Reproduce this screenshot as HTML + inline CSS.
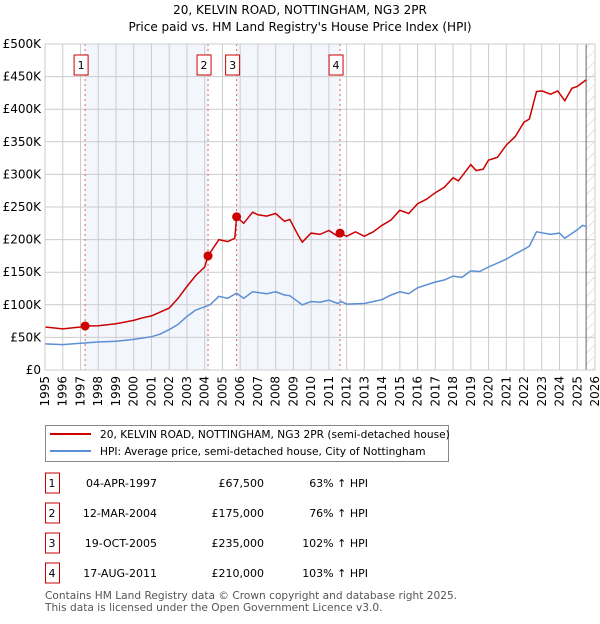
<!DOCTYPE html>
<html><head><meta charset="utf-8"><style>
body{margin:0;background:#fff;font-family:"DejaVu Sans","Liberation Sans",sans-serif;}
svg text{font-family:"DejaVu Sans","Liberation Sans",sans-serif;}
</style></head><body>
<svg id="c" width="600" height="620" xmlns="http://www.w3.org/2000/svg">
<text x="300" y="14" text-anchor="middle" font-size="12" fill="#000">20, KELVIN ROAD, NOTTINGHAM, NG3 2PR</text>
<text x="300" y="31" text-anchor="middle" font-size="12" fill="#000">Price paid vs. HM Land Registry's House Price Index (HPI)</text>
<g id="plot"></g>
<g>
<rect x="45.5" y="425.5" width="403" height="36" fill="#fff" stroke="#888"/>
<line x1="50" y1="434" x2="91" y2="434" stroke="#cc0000" stroke-width="2"/>
<text x="100" y="438" font-size="10.6">20, KELVIN ROAD, NOTTINGHAM, NG3 2PR (semi-detached house)</text>
<line x1="50" y1="451" x2="91" y2="451" stroke="#5b8fd4" stroke-width="2"/>
<text x="100" y="455" font-size="10.6">HPI: Average price, semi-detached house, City of Nottingham</text>
</g>
<g id="table" font-size="11"></g>
<text x="45" y="599" font-size="10.6" fill="#555">Contains HM Land Registry data © Crown copyright and database right 2025.</text>
<text x="45" y="611" font-size="10.6" fill="#555">This data is licensed under the Open Government Licence v3.0.</text>
</svg>
<script>
const redYears=[1995,1996,1997,1997.26,1998,1999,2000,2000.5,2001,2002,2002.5,2003,2003.5,2004,2004.19,2004.8,2005.3,2005.7,2005.8,2006.2,2006.7,2007,2007.5,2008,2008.5,2008.8,2009.3,2009.5,2010,2010.5,2011,2011.5,2011.63,2012,2012.5,2013,2013.5,2014,2014.5,2015,2015.5,2016,2016.5,2017,2017.5,2018,2018.3,2019,2019.3,2019.7,2020,2020.5,2021,2021.5,2022,2022.3,2022.7,2023,2023.5,2023.9,2024.3,2024.7,2025,2025.5];
const redVals=[66,63,66,67.5,68,71,76,80,83,95,110,128,145,158,175,200,197,202,235,225,242,238,236,240,228,231,205,196,210,208,214,205,210,205,212,205,212,222,230,245,240,255,262,272,280,295,290,315,306,308,322,326,345,358,380,385,427,428,423,428,413,432,435,445];
const hpiYears=[1995,1996,1997,1998,1999,2000,2001,2001.5,2002,2002.5,2003,2003.5,2004,2004.3,2004.8,2005.3,2005.8,2006.2,2006.7,2007.5,2008,2008.5,2008.8,2009.3,2009.5,2010,2010.5,2011,2011.5,2011.7,2012,2013,2014,2014.5,2015,2015.5,2016,2017,2017.5,2018,2018.5,2019,2019.5,2020,2021,2021.5,2022,2022.3,2022.7,2023.5,2024,2024.3,2025,2025.3,2025.5];
const hpiVals=[40,39,41,43,44,47,51,55,62,70,82,92,97,100,113,110,118,110,120,117,120,115,114,104,100,105,104,107,102,105,101,102,108,115,120,117,126,135,138,144,142,152,151,158,170,178,185,190,212,208,210,202,215,222,220];
const saleYears=[1997.26,2004.19,2005.8,2011.63];
const saleVals=[67.5,175,235,210];
const saleLabels=["1","2","3","4"];
const saleDates=["04-APR-1997","12-MAR-2004","19-OCT-2005","17-AUG-2011"];
const salePrices=["£67,500","£175,000","£235,000","£210,000"];
const salePct=["63% ↑ HPI","76% ↑ HPI","102% ↑ HPI","103% ↑ HPI"];
const yTicks=[0,50,100,150,200,250,300,350,400,450,500];
const yTickLabels=["£0","£50K","£100K","£150K","£200K","£250K","£300K","£350K","£400K","£450K","£500K"];
const xTicks=[1995,1996,1997,1998,1999,2000,2001,2002,2003,2004,2005,2006,2007,2008,2009,2010,2011,2012,2013,2014,2015,2016,2017,2018,2019,2020,2021,2022,2023,2024,2025,2026];

const L=45,R=595,T=44,B=370;
const X=y=>L+(y-1995)/(2026-1995)*(R-L);
const Y=v=>B-v/500*(B-T);
const NS="http://www.w3.org/2000/svg";
const plot=document.getElementById('plot');
function mk(tag,attrs,parent){const e=document.createElementNS(NS,tag);for(const k in attrs)e.setAttribute(k,attrs[k]);(parent||plot).appendChild(e);return e;}

for(const [a,b] of [[0,1],[2,3]]){
 const r=mk('rect',{x:X(saleYears[a]),y:T,width:X(saleYears[b])-X(saleYears[a]),height:B-T,fill:'#f3f6fd'});
 
 
}
const defs=mk('defs',{});
const pat=mk('pattern',{id:'h',width:8,height:8,patternUnits:'userSpaceOnUse',patternTransform:'rotate(45)'},defs);
mk('line',{x1:0,y1:0,x2:0,y2:8,stroke:'#ccc','stroke-width':1},pat);
const hr=mk('rect',{x:X(2025.5),y:T,width:R-X(2025.5),height:B-T,fill:'url(#h)'});


yTicks.forEach((v,i)=>{
 mk('line',{x1:L,x2:R,y1:Y(v),y2:Y(v),stroke:'#ccc','stroke-width':1});
 const t=mk('text',{x:L-4,y:Y(v)+4,'text-anchor':'end','font-size':12,fill:'#000'});
 t.textContent=yTickLabels[i];
 
 
});
xTicks.forEach(y=>{
 mk('line',{x1:X(y),x2:X(y),y1:T,y2:B,stroke:'#ccc','stroke-width':1});
 const t=mk('text',{x:0,y:0,'text-anchor':'end','font-size':12,transform:`translate(${X(y)+4},${B+6}) rotate(-90)`});
 t.textContent=y;
 
 
});
mk('line',{x1:X(2025.5),x2:X(2025.5),y1:T,y2:B,stroke:'#666','stroke-width':1});
saleYears.forEach((y,i)=>{
 const l=mk('line',{x1:X(y),x2:X(y),y1:T,y2:B,stroke:'#e06060','stroke-width':1,'stroke-dasharray':'2,3'});
 
 
 const bx=X(y)-11;
 const r=mk('rect',{x:bx,y:55,width:14,height:20,fill:'#fff',stroke:'#cc0000'});
 
 
 const t=mk('text',{x:bx+7,y:69,'text-anchor':'middle','font-size':11});
 t.textContent=saleLabels[i];
});
function path(xs,vs){return xs.map((x,i)=>(i?'L':'M')+X(x).toFixed(1)+','+Y(vs[i]).toFixed(1)).join('');}
const hp=mk('path',{d:path(hpiYears,hpiVals),fill:'none',stroke:'#5b8fd4','stroke-width':1.5});


const rp=mk('path',{d:path(redYears,redVals),fill:'none',stroke:'#cc0000','stroke-width':1.5});


saleYears.forEach((y,i)=>{
 const c=mk('circle',{cx:X(y),cy:Y(saleVals[i]),r:4.5,fill:'#cc0000'});
 
 
});
mk('rect',{x:L,y:T,width:R-L,height:B-T,fill:'none',stroke:'#ccc'});
const tb=document.getElementById('table');
saleYears.forEach((y,i)=>{
 const cy=483+i*30;
 const r=mk('rect',{x:45.5,y:cy-10,width:14,height:20,fill:'#fff',stroke:'#cc0000'},tb);
 
 
 const cells=[[52,'middle',saleLabels[i]],[157,'end',saleDates[i]],[264,'end',salePrices[i]],[368,'end',salePct[i]]];
 cells.forEach(c=>{const t=mk('text',{x:c[0],y:cy+4,'text-anchor':c[1],'font-size':11},tb);t.textContent=c[2];
  
  });
});
</script>
</body></html>
